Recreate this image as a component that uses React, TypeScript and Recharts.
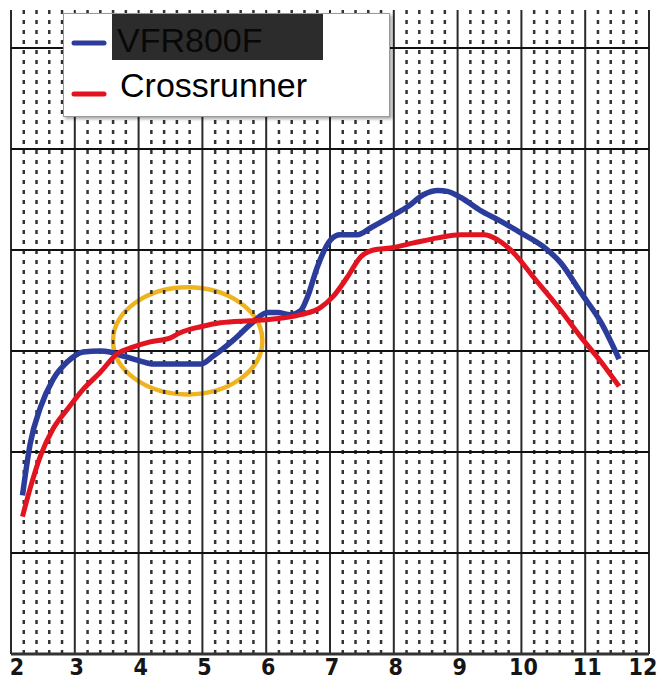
import React from 'react';
import { LineChart, Line, XAxis, YAxis, ReferenceLine, ReferenceArea, Legend } from 'recharts';

// ---- data ----
const vfrX = [2.18, 2.3, 2.46, 2.66, 2.88, 3.13, 3.4, 3.55, 3.76, 4.03, 4.23, 4.6, 4.97, 5.17, 5.49, 5.8, 6.02, 6.18, 6.38, 6.54, 6.65, 6.8, 7.01, 7.16, 7.43, 7.64, 7.95, 8.22, 8.47, 8.69, 8.84, 9.05, 9.36, 9.63, 9.99, 10.35, 10.62, 10.93, 11.25, 11.53];
const vfrY = [1.57, 2.08, 2.44, 2.72, 2.89, 2.99, 3.0, 2.99, 2.95, 2.9, 2.87, 2.87, 2.87, 2.95, 3.11, 3.29, 3.38, 3.38, 3.36, 3.4, 3.54, 3.83, 4.1, 4.15, 4.15, 4.22, 4.33, 4.43, 4.55, 4.59, 4.58, 4.52, 4.39, 4.3, 4.17, 4.03, 3.87, 3.58, 3.28, 2.92];
const crossX = [2.18, 2.3, 2.46, 2.66, 2.88, 3.13, 3.4, 3.66, 3.92, 4.18, 4.5, 4.65, 4.97, 5.28, 5.75, 6.02, 6.54, 6.85, 7.05, 7.27, 7.48, 7.68, 7.95, 8.31, 8.69, 9.05, 9.41, 9.63, 9.88, 10.19, 10.57, 10.93, 11.25, 11.53];
const crossY = [1.36, 1.64, 1.96, 2.23, 2.42, 2.62, 2.79, 2.97, 3.04, 3.09, 3.13, 3.18, 3.24, 3.28, 3.3, 3.31, 3.36, 3.43, 3.54, 3.73, 3.93, 4.0, 4.02, 4.07, 4.12, 4.15, 4.15, 4.1, 3.97, 3.73, 3.44, 3.14, 2.89, 2.65];

const seriesNames = ['VFR800F', 'Crossrunner'];
const xTicks = [2, 3, 4, 5, 6, 7, 8, 9, 10, 11, 12];
const yMajor = [1, 2, 3, 4, 5, 6];
const minorSteps = [0.2, 0.4, 0.6, 0.8];
const xMinor: number[] = [];
xTicks.slice(0, -1).forEach((t) => minorSteps.forEach((s) => xMinor.push(Math.round((t + s) * 10) / 10)));

// highlight ellipse bounds (data units)
const ellipseX = [3.6, 5.94];
const ellipseY = [2.57, 3.63];

const vfrData = vfrX.map((x, i) => ({ x, y: vfrY[i] }));
const crossData = crossX.map((x, i) => ({ x, y: crossY[i] }));

const BLUE = '#2B3C9B';
const RED = '#E2141F';

const Tick = (props: any) => {
  const { x, y, payload } = props;
  const v = payload.value;
  const dx = v === 2 ? 6 : v === 12 ? -6 : 2;
  return (
    <text x={x + dx} y={y} dy={13} textAnchor="middle"
      style={{ fontFamily: '"Liberation Sans Narrow", "DejaVu Sans Condensed", "Liberation Sans", Arial, sans-serif', fontWeight: 700, fontSize: 23, fill: '#151515' }}>
      {v}
    </text>
  );
};

const LegendBox = (props: any) => {
  const items = props.payload || [];
  const find = (name: string, fallback: string) => {
    const it = items.find((p: any) => p.value === name);
    return { value: name, color: it ? it.color : fallback };
  };
  const first = find(seriesNames[0], BLUE);
  const second = find(seriesNames[1], RED);
  const font = '"Liberation Sans", Arial, sans-serif';
  return (
    <div style={{ width: 327, height: 104, background: '#fff', border: '1px solid #9a9a9a', boxShadow: '2px 2px 3px rgba(0,0,0,0.35)', boxSizing: 'border-box' }}>
      <svg width={325} height={102} style={{ display: 'block' }}>
        <rect x={48} y={0} width={211} height={46} fill="#2c2c2c" />
        <line x1={10} x2={40} y1={29} y2={29} stroke={first.color} strokeWidth={5} strokeLinecap="round" />
        <text x={53} y={38} style={{ fontFamily: font, fontSize: 34, fill: '#080808' }}>{first.value}</text>
        <line x1={10} x2={40} y1={80} y2={80} stroke={second.color} strokeWidth={5} strokeLinecap="round" />
        <text x={56} y={83} style={{ fontFamily: font, fontSize: 34, fill: '#000' }}>{second.value}</text>
      </svg>
    </div>
  );
};

const EllipseShape = (props: any) => {
  const { x, y, width, height } = props;
  return (
    <ellipse cx={x + width / 2} cy={y + height / 2} rx={width / 2} ry={height / 2}
      fill="none" stroke="#F0B320" strokeWidth={4.5} />
  );
};

export default function App() {
  return (
    <div style={{ position: 'absolute', left: 0, top: 0, width: 665, height: 687, background: '#fff' }}>
      <LineChart width={665} height={687} margin={{ top: 10, right: 16, bottom: 3, left: 11 }}>
        <XAxis dataKey="x" type="number" domain={[2, 12]} ticks={xTicks} allowDataOverflow
          tick={<Tick />} tickLine={false} axisLine={{ stroke: '#333', strokeWidth: 3 }} height={30} />
        <YAxis type="number" domain={[0, 6.376]} hide width={0} allowDataOverflow />
        {xMinor.map((v) => (
          <ReferenceLine key={'mx' + v} x={v} stroke="#333" strokeWidth={2.5} strokeDasharray="4 6" />
        ))}
        {xTicks.map((v) => (
          <ReferenceLine key={'x' + v} x={v} stroke="#2a2a2a" strokeWidth={2} />
        ))}
        {yMajor.map((v) => (
          <ReferenceLine key={'y' + v} y={v} stroke="#111" strokeWidth={2} />
        ))}
        <Line data={vfrData} dataKey="y" name={seriesNames[0]} type="monotone" stroke={BLUE} strokeWidth={5.5}
          dot={false} isAnimationActive={false} />
        <Line data={crossData} dataKey="y" name={seriesNames[1]} type="monotone" stroke={RED} strokeWidth={5}
          dot={false} isAnimationActive={false} />
        <ReferenceArea x1={ellipseX[0]} x2={ellipseX[1]} y1={ellipseY[0]} y2={ellipseY[1]} shape={<EllipseShape />} />
        <Legend layout="vertical" align="center" verticalAlign="middle" content={<LegendBox />}
          wrapperStyle={{ top: 13, left: 63, width: 327, height: 104 }} />
      </LineChart>
    </div>
  );
}
